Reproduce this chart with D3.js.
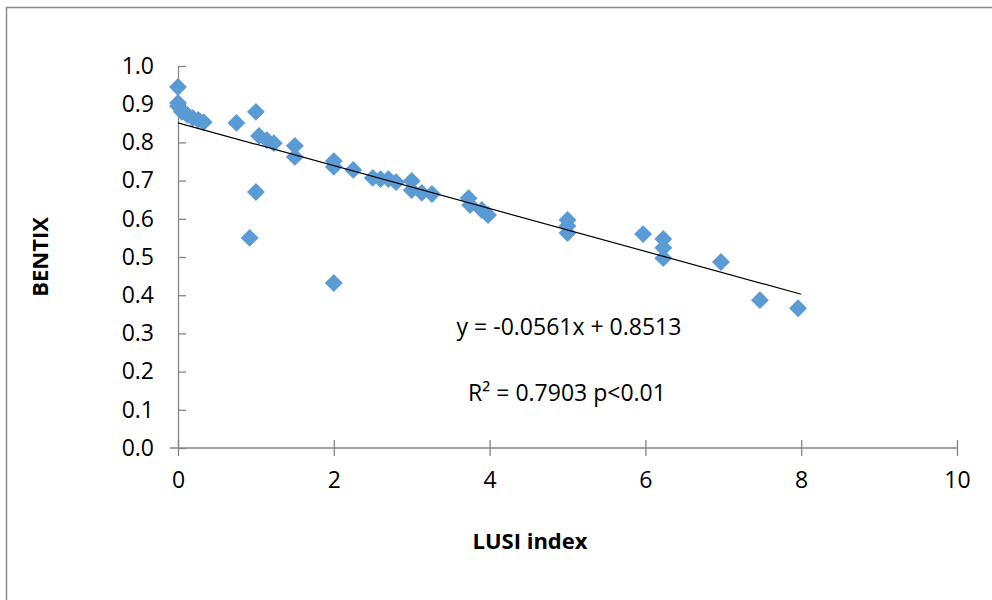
<!DOCTYPE html>
<html>
<head>
<meta charset="utf-8">
<script src="https://cdn.jsdelivr.net/npm/d3@7"></script>
<style>
  body { margin: 0; background: #fff; }
  text { font-family: "Open Sans", "Noto Sans", sans-serif; fill: #000; }
</style>
</head>
<body>
<svg id="chart" width="992" height="600"></svg>
<script>
// LUSI index vs BENTIX
var lusi = [0, 0, 0, 0.05, 0.12, 0.19, 0.26, 0.33, 0.75, 1.0,
  1.04, 1.14, 1.23, 1.5, 1.5, 1.0, 0.92, 2.0, 2.0, 2.0,
  2.25, 2.5, 2.6, 2.7, 2.8, 3.0, 3.0, 3.13, 3.26, 3.73,
  3.75, 3.9, 3.98, 5.0, 5.0, 5.0, 5.97, 6.23, 6.23, 6.23,
  6.97, 7.47, 7.96]
var bentix = [0.945, 0.903, 0.895, 0.88, 0.872, 0.864, 0.859, 0.853, 0.851, 0.88,
  0.817, 0.806, 0.798, 0.791, 0.762, 0.67, 0.55, 0.751, 0.736, 0.432,
  0.728, 0.707, 0.704, 0.704, 0.696, 0.699, 0.675, 0.668, 0.665, 0.654,
  0.636, 0.623, 0.61, 0.597, 0.581, 0.563, 0.56, 0.547, 0.524, 0.497,
  0.487, 0.387, 0.366]

var xTicks = [0, 2, 4, 6, 8, 10]
var yTicks = [0, 0.1, 0.2, 0.3, 0.4, 0.5, 0.6, 0.7, 0.8, 0.9, 1.0]

// linear fit shown on the chart
var slope = -0.0561, intercept = 0.8513
var fitRange = [0, 8]
var eqText = "y = -0.0561x + 0.8513"

var axisCol = "#868686"

var svg = d3.select("#chart")

// outer frame (right and bottom edges run off the picture)
svg.append("rect")
  .attr("x", 6.5).attr("y", 7.5)
  .attr("width", 1000).attr("height", 700)
  .attr("fill", "none")
  .attr("stroke", "#8c8c8c")
  .attr("stroke-width", 1.5)

var x = d3.scaleLinear().domain([0, 10]).range([178, 957])
var y = d3.scaleLinear().domain([0, 1]).range([448, 66])

// y axis, ticks crossing the line
var yAxis = svg.append("g")
  .attr("transform", "translate(" + x(0) + ",0)")
  .call(d3.axisLeft(y).tickValues(yTicks).tickSizeInner(8).tickSizeOuter(0)
    .tickFormat(d3.format(".1f")))
yAxis.selectAll(".tick line").attr("x2", 8)
yAxis.selectAll(".tick text").attr("x", -24).attr("font-size", 23)

// x axis
var xAxis = svg.append("g")
  .attr("transform", "translate(0," + y(0) + ")")
  .call(d3.axisBottom(x).tickValues(xTicks).tickSizeInner(8).tickSizeOuter(0)
    .tickFormat(d3.format("d")))
xAxis.selectAll(".tick line").attr("y1", -8)
xAxis.selectAll(".tick text").attr("y", 24).attr("font-size", 23)
xAxis.select(".domain").attr("d", "M" + (x(0) - 8) + ",0H" + x(10))

svg.selectAll(".domain, .tick line").attr("stroke", axisCol).attr("stroke-width", 1.3)
svg.selectAll(".tick text").attr("font-family", "Open Sans").attr("fill", "#000")

// points
var pts = d3.zip(lusi, bentix)
svg.append("g").selectAll("path")
  .data(pts)
  .enter()
  .append("path")
  .attr("d", d3.symbol().type(d3.symbolSquare).size(160))
  .attr("transform", function(d){ return "translate(" + x(d[0]) + "," + y(d[1]) + ") rotate(45)" })
  .attr("fill", "#5b9bd5")

// trend line
svg.append("line")
  .attr("x1", x(fitRange[0])).attr("y1", y(intercept + slope * fitRange[0]))
  .attr("x2", x(fitRange[1])).attr("y2", y(intercept + slope * fitRange[1]))
  .attr("stroke", "#000").attr("stroke-width", 1.2)

// equation labels
svg.append("text")
  .attr("x", 569).attr("y", 335)
  .attr("text-anchor", "middle")
  .attr("font-size", 23)
  .text(eqText)

svg.append("text")
  .attr("x", 567).attr("y", 401)
  .attr("text-anchor", "middle")
  .attr("font-size", 23)
  .text("R² = 0.7903 p<0.01")

// axis titles
svg.append("text")
  .attr("x", 530).attr("y", 549)
  .attr("text-anchor", "middle")
  .attr("font-size", 22).attr("font-weight", "bold")
  .text("LUSI index")

svg.append("text")
  .attr("transform", "translate(48,257) rotate(-90)")
  .attr("text-anchor", "middle")
  .attr("font-size", 22).attr("font-weight", "bold")
  .text("BENTIX")
</script>
</body>
</html>
